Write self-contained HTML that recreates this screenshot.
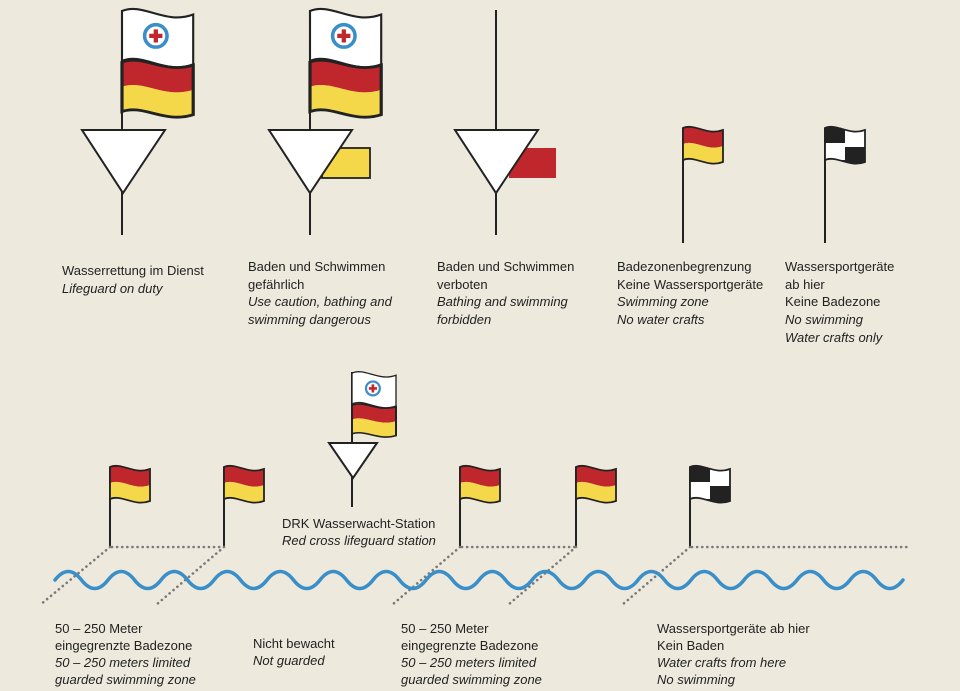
<!DOCTYPE html>
<html><head><meta charset="utf-8"><style>
html,body{margin:0;padding:0;background:#EDE9DD;}
svg{display:block}
text{font-family:"Liberation Sans",Arial,sans-serif;font-size:13px;fill:#222;}
.i{font-style:italic}
</style></head><body>
<svg width="960" height="691" viewBox="0 0 960 691" xmlns="http://www.w3.org/2000/svg">
<defs>
<clipPath id="fc"><path d="M0,0 C12,-5 24,8 40,2 L40,34 C24,40 12,27 0,32 Z"/></clipPath>
<g id="ry">
<path d="M0,0 C12,-5 24,8 40,2 L40,18 C24,24 12,11 0,16 Z" fill="#C0272D"/>
<path d="M0,16 C12,11 24,24 40,18 L40,34 C24,40 12,27 0,32 Z" fill="#F4D84A"/>
<path d="M0,0 C12,-5 24,8 40,2 L40,34 C24,40 12,27 0,32 Z" fill="none" stroke="#222" stroke-width="1.8"/>
</g>
<g id="ck">
<g clip-path="url(#fc)">
<rect x="0" y="-6" width="40" height="46" fill="#222"/>
<rect x="0" y="15" width="20" height="17" fill="#fff"/>
<rect x="20" y="2" width="20" height="17" fill="#fff"/>
</g>
<path d="M0,0 C12,-5 24,8 40,2 L40,34 C24,40 12,27 0,32 Z" fill="none" stroke="#222" stroke-width="1.8"/>
</g>
<g id="wh">
<path d="M0,0 C12,-5 24,8 40,2 L40,30 C24,36 12,23 0,28 Z" fill="#fff" stroke="#222" stroke-width="1.2"/>
<circle cx="19" cy="14" r="6.3" fill="#fff" stroke="#3A8FC8" stroke-width="2"/>
<path d="M17.8,10.3h2.4v2.5h2.5v2.4h-2.5v2.5h-2.4v-2.5h-2.5v-2.4h2.5z" fill="#C0272D"/>
</g>
</defs>

<g stroke="#222" stroke-width="2" fill="none">
<line x1="122" y1="10" x2="122" y2="235"/>
<line x1="310" y1="10" x2="310" y2="235"/>
<line x1="496" y1="10" x2="496" y2="235"/>
<line x1="683" y1="128" x2="683" y2="243"/>
<line x1="825" y1="128" x2="825" y2="243"/>
<line x1="352" y1="372" x2="352" y2="507"/>
<line x1="110" y1="467" x2="110" y2="547"/>
<line x1="224" y1="467" x2="224" y2="547"/>
<line x1="460" y1="467" x2="460" y2="547"/>
<line x1="576" y1="467" x2="576" y2="547"/>
<line x1="690" y1="467" x2="690" y2="547"/>
</g>

<g transform="translate(122,11) scale(1.78,1.78)"><use href="#wh"/></g>
<g transform="translate(122,62) scale(1.78,1.55)"><use href="#ry"/></g>
<g transform="translate(310,11) scale(1.78,1.78)"><use href="#wh"/></g>
<g transform="translate(310,62) scale(1.78,1.55)"><use href="#ry"/></g>
<g transform="translate(352,373) scale(1.1,1.1)"><use href="#wh"/></g>
<g transform="translate(352,405) scale(1.1,0.9)"><use href="#ry"/></g>

<rect x="322" y="148" width="48" height="30" fill="#F4D84A" stroke="#222" stroke-width="1.8"/>
<rect x="509" y="148" width="47" height="30" fill="#C0272D"/>

<g fill="#fff" stroke="#222" stroke-width="2">
<path d="M82,130 L165,130 L123,193 Z"/>
<path d="M269,130 L352,130 L310,193 Z"/>
<path d="M455,130 L538,130 L496,193 Z"/>
<path d="M329,443 L377,443 L353,478 Z"/>
</g>

<g transform="translate(683,128)"><use href="#ry"/></g>
<g transform="translate(825,128)"><use href="#ck"/></g>
<g transform="translate(110,467)"><use href="#ry"/></g>
<g transform="translate(224,467)"><use href="#ry"/></g>
<g transform="translate(460,467)"><use href="#ry"/></g>
<g transform="translate(576,467)"><use href="#ry"/></g>
<g transform="translate(690,467)"><use href="#ck"/></g>

<g stroke="#7a7a7a" stroke-width="2.6" stroke-dasharray="0.1 5" stroke-linecap="round" fill="none">
<line x1="112" y1="547" x2="224" y2="547"/>
<line x1="462" y1="547" x2="576" y2="547"/>
<line x1="692" y1="547" x2="907" y2="547"/>
<line x1="110" y1="547" x2="40" y2="605"/>
<line x1="224" y1="547" x2="156" y2="605"/>
<line x1="460" y1="547" x2="392" y2="605"/>
<line x1="576" y1="547" x2="508" y2="605"/>
<line x1="690" y1="547" x2="622" y2="605"/>
</g>

<path d="M55,580 q13.25,-17 26.5,0 t26.5,0 t26.5,0 t26.5,0 t26.5,0 t26.5,0 t26.5,0 t26.5,0 t26.5,0 t26.5,0 t26.5,0 t26.5,0 t26.5,0 t26.5,0 t26.5,0 t26.5,0 t26.5,0 t26.5,0 t26.5,0 t26.5,0 t26.5,0 t26.5,0 t26.5,0 t26.5,0 t26.5,0 t26.5,0 t26.5,0 t26.5,0 t26.5,0 t26.5,0 t26.5,0 t26.5,0" fill="none" stroke="#3A8FC8" stroke-width="3.5" stroke-linecap="round"/>

<text x="62" y="275">Wasserrettung im Dienst</text>
<text x="62" y="293" class="i">Lifeguard on duty</text>

<text x="248" y="271">Baden und Schwimmen</text>
<text x="248" y="289">gefährlich</text>
<text x="248" y="306" class="i">Use caution, bathing and</text>
<text x="248" y="324" class="i">swimming dangerous</text>

<text x="437" y="271">Baden und Schwimmen</text>
<text x="437" y="289">verboten</text>
<text x="437" y="306" class="i">Bathing and swimming</text>
<text x="437" y="324" class="i">forbidden</text>

<text x="617" y="271">Badezonenbegrenzung</text>
<text x="617" y="289">Keine Wassersportgeräte</text>
<text x="617" y="306" class="i">Swimming zone</text>
<text x="617" y="324" class="i">No water crafts</text>

<text x="785" y="271">Wassersportgeräte</text>
<text x="785" y="289">ab hier</text>
<text x="785" y="306">Keine Badezone</text>
<text x="785" y="324" class="i">No swimming</text>
<text x="785" y="342" class="i">Water crafts only</text>

<text x="282" y="528">DRK Wasserwacht-Station</text>
<text x="282" y="545" class="i">Red cross lifeguard station</text>

<text x="55" y="633">50 – 250 Meter</text>
<text x="55" y="650">eingegrenzte Badezone</text>
<text x="55" y="667" class="i">50 – 250 meters limited</text>
<text x="55" y="684" class="i">guarded swimming zone</text>

<text x="253" y="648">Nicht bewacht</text>
<text x="253" y="665" class="i">Not guarded</text>

<text x="401" y="633">50 – 250 Meter</text>
<text x="401" y="650">eingegrenzte Badezone</text>
<text x="401" y="667" class="i">50 – 250 meters limited</text>
<text x="401" y="684" class="i">guarded swimming zone</text>

<text x="657" y="633">Wassersportgeräte ab hier</text>
<text x="657" y="650">Kein Baden</text>
<text x="657" y="667" class="i">Water crafts from here</text>
<text x="657" y="684" class="i">No swimming</text>
</svg>
</body></html>
